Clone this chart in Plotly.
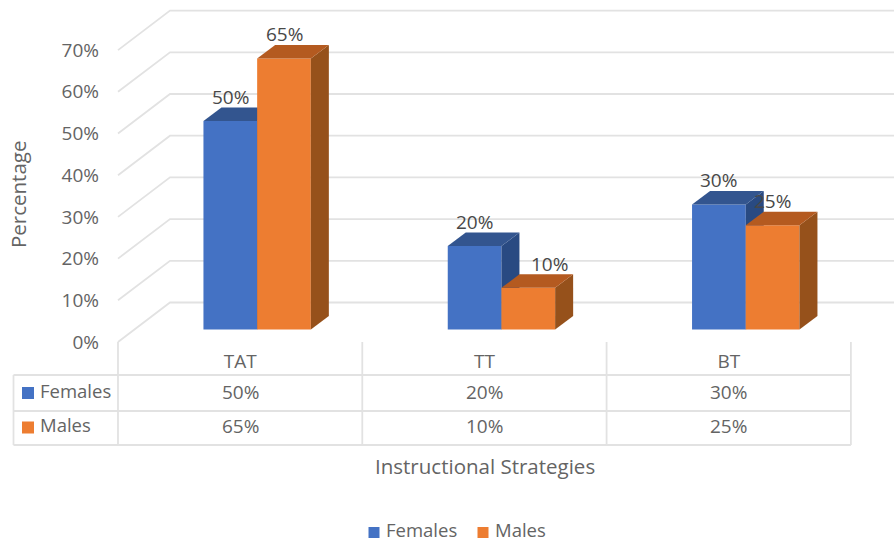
import plotly.graph_objects as go

# Chart data
categories = ["TAT", "TT", "BT"]
females = [50, 20, 30]
males = [65, 10, 25]
y_ticks = [0, 10, 20, 30, 40, 50, 60, 70]

# Canvas and scale
W, H = 894, 541
X0 = 118          # left edge of the first category
CAT_W = 244.3     # width of one category
Y0 = 342          # baseline of the percent scale
PX_PER_PCT = 4.17

def ux(px):
    return (px - X0) / CAT_W - 0.5

def uy(py):
    return (Y0 - py) / PX_PER_PCT

# Pseudo-3D geometry, in axis units
BAR_W = 53.7 / CAT_W
BAR_SHIFT = 17 / CAT_W
FLOOR = 12.5 / PX_PER_PCT
DEPTH_X = 18 / CAT_W
DEPTH_Y = 13.5 / PX_PER_PCT
WALL_X = 52 / CAT_W
WALL_Y = 39.5 / PX_PER_PCT

BLUE, BLUE_TOP, BLUE_SIDE = "#4472C4", "#33558F", "#294A82"
ORANGE, ORANGE_TOP, ORANGE_SIDE = "#ED7D31", "#B45A20", "#96511B"
GRID = "#E2E2E2"
TEXT = "#646464"
LABEL = "#484848"
FONT = "Open Sans"
SIZE = 19

fig = go.Figure()

# Back wall and side wall gridlines
for t in y_ticks:
    fig.add_trace(go.Scatter(
        x=[-0.5, -0.5 + WALL_X, ux(W)],
        y=[t, t + WALL_Y, t + WALL_Y],
        mode="lines", line=dict(color=GRID, width=1.8),
        showlegend=False, hoverinfo="skip",
    ))

def add_series(name, values, shift, front, top, side, xa, ya):
    xs = [i + shift for i in range(len(values))]
    fig.add_trace(go.Bar(
        name=name, x=xs, y=values, base=FLOOR, width=BAR_W,
        marker=dict(color=front, line=dict(width=0)),
        xaxis=xa, yaxis=ya, showlegend=False,
    ))
    for x, v in zip(xs, values):
        left, right = x - BAR_W / 2, x + BAR_W / 2
        h = v + FLOOR
        faces = [
            ([right, right + DEPTH_X, right + DEPTH_X, right, right],
             [FLOOR, FLOOR + DEPTH_Y, h + DEPTH_Y, h, FLOOR], side),
            ([left, left + DEPTH_X, right + DEPTH_X, right, left],
             [h, h + DEPTH_Y, h + DEPTH_Y, h, h], top),
        ]
        for fx, fy, color in faces:
            fig.add_trace(go.Scatter(
                x=fx, y=fy, mode="lines", fill="toself", fillcolor=color,
                line=dict(width=0, color=color), xaxis=xa, yaxis=ya,
                showlegend=False, hoverinfo="skip",
            ))

# Each series gets its own overlaid axis pair: walls below, then females, then males
add_series("Females", females, BAR_SHIFT - BAR_W / 2, BLUE, BLUE_TOP, BLUE_SIDE, "x2", "y2")
add_series("Males", males, BAR_SHIFT + BAR_W / 2, ORANGE, ORANGE_TOP, ORANGE_SIDE, "x3", "y3")

annotations = []

def text(px, py, s, color=TEXT, size=SIZE, xanchor="center", angle=0):
    annotations.append(dict(
        x=ux(px), y=uy(py), xref="x", yref="y", text=s, showarrow=False,
        xanchor=xanchor, yanchor="middle", textangle=angle,
        font=dict(family=FONT, size=size, color=color),
    ))

# Value labels above the bars; the 10% label is pulled clear of the blue bar
label_nudge = {("Males", 1): 21}
for name, vals, shift in (("Females", females, -0.5), ("Males", males, 0.5)):
    for i, v in enumerate(vals):
        cx = X0 + CAT_W * (i + 0.5) + 17 + shift * 53.7 + label_nudge.get((name, i), 0)
        cy = Y0 - (v + FLOOR) * PX_PER_PCT - 24
        text(cx, cy, f"{v}%", color=LABEL)

# Data table beneath the plot
table_left, table_right = 13.5, X0 + CAT_W * len(categories)
rows = [375, 411, 445]
lines = [
    ([table_left, table_right], [rows[0], rows[0]]),
    ([table_left, table_right], [rows[1], rows[1]]),
    ([table_left, table_right], [rows[2], rows[2]]),
    ([table_left, table_left], [rows[0], rows[2]]),
]
for k in range(len(categories) + 1):
    lines.append(([X0 + CAT_W * k] * 2, [Y0, rows[2]]))
for lx, ly in lines:
    fig.add_trace(go.Scatter(
        x=[ux(p) for p in lx], y=[uy(p) for p in ly], mode="lines",
        line=dict(color=GRID, width=1.8), showlegend=False, hoverinfo="skip",
    ))

for i in range(len(categories)):
    cx = X0 + CAT_W * (i + 0.5)
    text(cx, 391.5, f"{females[i]}%")
    text(cx, 426, f"{males[i]}%")
text(38, 390, "Females", xanchor="left", size=18.5)
text(38, 424.5, "Males", xanchor="left", size=18.5)

# Colour keys for the table rows and the chart legend
keys = [
    (28, 393, 12, BLUE), (28, 427.5, 12, ORANGE),
    (374, 532.5, 11, BLUE), (483, 532.5, 11, ORANGE),
]
for kx, ky, ks, kc in keys:
    fig.add_trace(go.Scatter(
        x=[ux(kx)], y=[uy(ky)], mode="markers",
        marker=dict(symbol="square", size=ks, color=kc, line=dict(width=0)),
        showlegend=False, hoverinfo="skip",
    ))
text(384, 529.5, "Females", xanchor="left", size=18.5)
text(493, 529.5, "Males", xanchor="left", size=18.5)

# Axis titles
text(484.5, 466, "Instructional Strategies", size=20.5)
text(18, 195, "Percentage", angle=-90, size=20.5)

x_range = [ux(0), ux(W)]
y_range = [uy(H), uy(0)]

fig.update_layout(
    width=W, height=H, margin=dict(l=0, r=0, t=0, b=0), autosize=False,
    paper_bgcolor="white", plot_bgcolor="white", barmode="overlay",
    showlegend=False, annotations=annotations,
    font=dict(family=FONT, size=SIZE, color=TEXT),
    xaxis=dict(
        range=x_range, domain=[0, 1], anchor="free", position=1 - 348 / H,
        tickmode="array", tickvals=list(range(len(categories))), ticktext=categories,
        showgrid=False, zeroline=False, showline=False, ticks="",
        tickfont=dict(family=FONT, size=SIZE, color=TEXT),
    ),
    yaxis=dict(
        range=y_range, domain=[0, 1], anchor="free", position=99 / W,
        tickmode="array", tickvals=y_ticks, ticktext=[f"{t}%" for t in y_ticks],
        showgrid=False, zeroline=False, showline=False, ticks="",
        tickfont=dict(family=FONT, size=SIZE, color=TEXT),
    ),
    xaxis2=dict(range=x_range, overlaying="x", visible=False),
    yaxis2=dict(range=y_range, overlaying="y", visible=False),
    xaxis3=dict(range=x_range, overlaying="x", visible=False),
    yaxis3=dict(range=y_range, overlaying="y", visible=False),
)

fig.write_html("out.html")
